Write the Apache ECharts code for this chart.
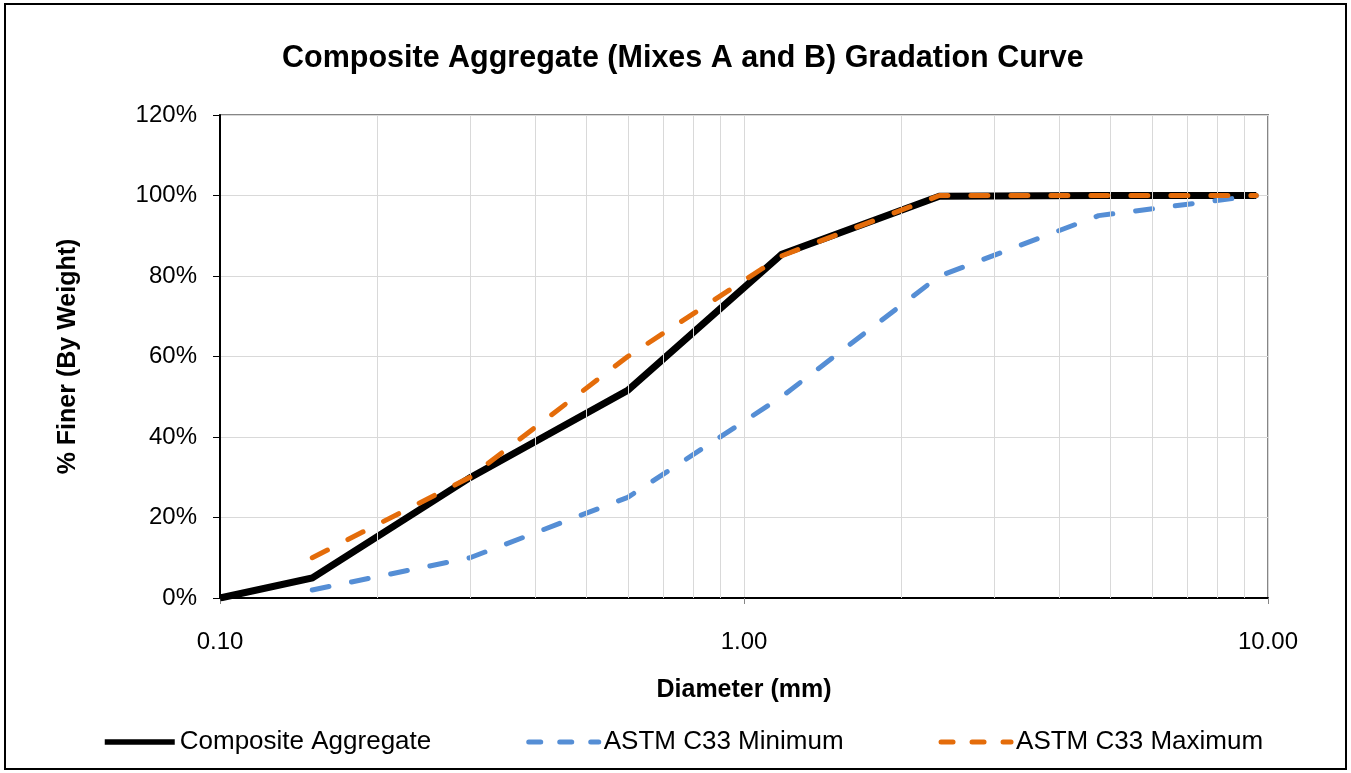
<!DOCTYPE html>
<html>
<head>
<meta charset="utf-8">
<script src="https://cdn.jsdelivr.net/npm/echarts@6/dist/echarts.min.js"></script>
<style>
  html, body { margin: 0; padding: 0; background: #fff; }
  #chart { width: 1351px; height: 773px; }
</style>
</head>
<body>
<div id="chart"></div>
<script>
// ---- data ----
var sieveSizes = [0.10, 0.15, 0.30, 0.60, 1.18, 2.36, 4.75, 9.50];
var compositeFiner = [0.0, 5.0, 29.9, 51.6, 85.4, 99.8, 100, 100];
var astmSizes = [0.15, 0.30, 0.60, 1.18, 2.36, 4.75, 9.50];
var astmMin = [2, 10, 25, 50, 80, 95, 100];
var astmMax = [10, 30, 60, 85, 100, 100, 100];
var minorGridValues = [0.2, 0.3, 0.4, 0.5, 0.6, 0.7, 0.8, 0.9, 2, 3, 4, 5, 6, 7, 8, 9];
var seriesNames = ['Composite Aggregate', 'ASTM C33 Minimum', 'ASTM C33 Maximum'];
var titleText = 'Composite Aggregate (Mixes A and B) Gradation Curve';
var xAxisTitle = 'Diameter (mm)';
var yAxisTitle = '% Finer (By Weight)';

function pairs(xs, ys) { return xs.map(function (x, i) { return [x, ys[i]]; }); }

var FONT = '"Liberation Sans", Arial, Helvetica, sans-serif';
var BLUE = '#558ED5';
var ORANGE = '#E46C0A';

var chart = echarts.init(document.getElementById('chart'), null, { renderer: 'canvas' });
chart.setOption({
  animation: false,
  backgroundColor: '#ffffff',
  textStyle: { fontFamily: FONT },
  title: {
    text: titleText,
    left: 277,
    top: 38,
    textStyle: { fontFamily: FONT, fontSize: 30.5, fontWeight: 'bold', color: '#000' }
  },
  graphic: [{
    type: 'rect',
    shape: { x: 5, y: 4, width: 1341, height: 765 },
    style: { fill: 'none', stroke: '#000', lineWidth: 2 },
    silent: true, z: 100
  }],
  legend: {
    left: 97,
    top: 724,
    itemWidth: 70,
    itemHeight: 25,
    itemGap: 95,
    itemStyle: { opacity: 0 },
    textStyle: { fontFamily: FONT, fontSize: 26, color: '#000' },
    data: [
      { name: seriesNames[0], itemStyle: { opacity: 0 }, lineStyle: { width: 5.5 } },
      { name: seriesNames[1], itemStyle: { opacity: 0 }, lineStyle: { type: [12, 19], cap: 'round', width: 5 } },
      { name: seriesNames[2], itemStyle: { opacity: 0 }, lineStyle: { type: [12, 19], cap: 'round', width: 5 } }
    ]
  },
  grid: {
    left: 220, right: 83, top: 115, bottom: 175,
    show: true, borderColor: '#868686', borderWidth: 2, backgroundColor: '#fff'
  },
  xAxis: {
    type: 'log',
    logBase: 10,
    min: 0.1,
    max: 10,
    name: xAxisTitle,
    nameLocation: 'middle',
    nameGap: 80,
    nameTextStyle: { fontFamily: FONT, fontSize: 25, fontWeight: 'bold', color: '#000' },
    axisLine: { show: true, onZero: false, lineStyle: { color: '#000', width: 2 } },
    axisTick: { show: true, length: 6, lineStyle: { color: '#868686', width: 1 } },
    axisLabel: {
      margin: 32,
      fontFamily: FONT, fontSize: 24, color: '#000',
      formatter: function (v) { return Number(v).toFixed(2); }
    },
    splitLine: { show: true, lineStyle: { color: '#d9d9d9', width: 1 } },
    minorTick: { show: false },
    minorSplitLine: { show: false }
  },
  yAxis: {
    type: 'value',
    min: 0,
    max: 120,
    interval: 20,
    name: yAxisTitle,
    nameLocation: 'middle',
    nameGap: 139,
    nameTextStyle: { fontFamily: FONT, fontSize: 25, fontWeight: 'bold', color: '#000' },
    axisLine: { show: true, lineStyle: { color: '#000', width: 2 } },
    axisTick: { show: true, length: 7, lineStyle: { color: '#000', width: 1 } },
    axisLabel: {
      margin: 23,
      fontFamily: FONT, fontSize: 24, color: '#000',
      formatter: function (v) { return v + '%'; }
    },
    splitLine: { show: true, lineStyle: { color: '#d9d9d9', width: 1 } }
  },
  series: [
    {
      name: '_minorgrid',
      type: 'line',
      data: [],
      z: 1,
      silent: true,
      markLine: {
        silent: true,
        symbol: ['none', 'none'],
        label: { show: false },
        lineStyle: { color: '#d9d9d9', width: 1, type: 'solid' },
        emphasis: { disabled: true },
        data: minorGridValues.map(function (v) { return { xAxis: v }; })
      }
    },
    {
      name: seriesNames[0],
      type: 'line',
      data: pairs(sieveSizes, compositeFiner),
      showSymbol: false,
      symbol: 'none',
      z: 3,
      lineStyle: { color: '#000', width: 7, join: 'miter' },
      itemStyle: { color: '#000' }
    },
    {
      name: seriesNames[1],
      type: 'line',
      data: pairs(astmSizes, astmMin),
      showSymbol: false,
      symbol: 'none',
      z: 4,
      lineStyle: { color: BLUE, width: 5, type: [17, 23], cap: 'round', join: 'round' },
      itemStyle: { color: BLUE }
    },
    {
      name: seriesNames[2],
      type: 'line',
      data: pairs(astmSizes, astmMax),
      showSymbol: false,
      symbol: 'none',
      z: 5,
      lineStyle: { color: ORANGE, width: 5, type: [17, 23], cap: 'round', join: 'round' },
      itemStyle: { color: ORANGE }
    }
  ]
});
</script>
</body>
</html>
